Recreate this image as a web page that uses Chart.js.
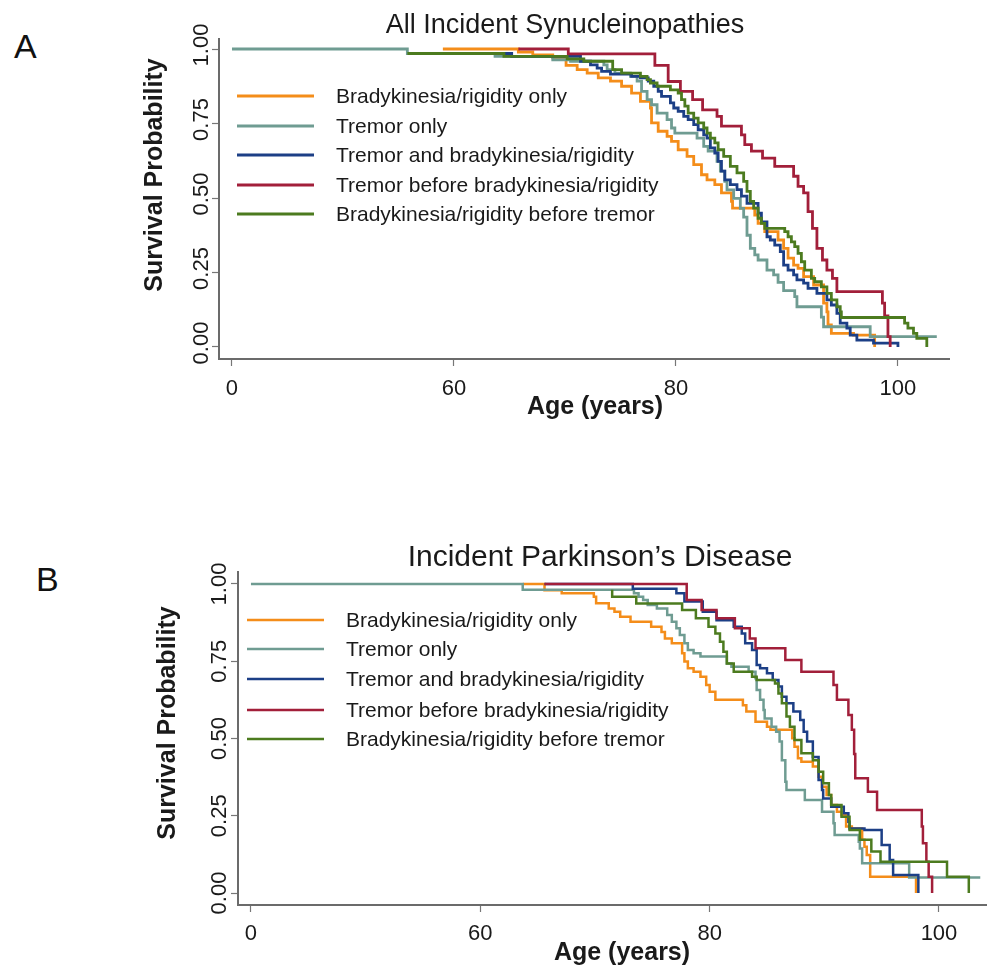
<!DOCTYPE html>
<html>
<head>
<meta charset="utf-8">
<script src="https://cdn.jsdelivr.net/npm/chart.js@4.4.1/dist/chart.umd.min.js"></script>
<style>
    body { margin: 0; background: #fff; width: 987px; height: 969px; position: relative; overflow: hidden; font-family: "Liberation Sans", Arial, sans-serif; }
    .painel { position: absolute; left: 0; width: 987px; }
    #painelA { top: 0; height: 440px; }
    #painelB { top: 470px; height: 499px; }
    .letra { position: absolute; font-size: 34px; line-height: 1; color: #111; }
</style>
</head>
<body>
<div class="letra" style="left:14px; top:29px;">A</div>
<div class="letra" style="left:36px; top:562px;">B</div>
<div class="painel" id="painelA"><canvas id="graficoA"></canvas></div>
<div class="painel" id="painelB"><canvas id="graficoB"></canvas></div>

<script>
// eixos
var ticksIdade = [40, 60, 80, 100];
var ticksSobrevivencia = [0, 0.25, 0.5, 0.75, 1];
var grupos = ['Bradykinesia/rigidity only', 'Tremor only', 'Tremor and bradykinesia/rigidity',
              'Tremor before bradykinesia/rigidity', 'Bradykinesia/rigidity before tremor'];
var cores = ['#f48d1a', '#6f9c92', '#1c3f86', '#a21f3a', '#4c7b1f'];

// Painel A - All Incident Synucleinopathies  [idade, sobrevivencia]
var bradiSoA = [[59.0,1],[65.8,0.99],[67.1,0.98],[68.9,0.97],[70.1,0.945],[71.1,0.931],[72.0,0.919],[73.0,0.903],
    [74.1,0.892],[75.1,0.875],[76.0,0.852],[76.8,0.824],[77.7,0.802],[77.8,0.752],[78.4,0.724],[79.2,0.707],
    [79.6,0.690],[80.2,0.662],[81.0,0.640],[81.6,0.612],[82.3,0.578],[82.8,0.561],[83.5,0.545],[84.1,0.517],
    [85.0,0.489],[85.1,0.466],[87.1,0.443],[87.4,0.415],[88.0,0.387],[89.2,0.359],[89.7,0.331],[90.1,0.298],
    [90.6,0.275],[91.0,0.264],[91.5,0.236],[92.4,0.208],[93.3,0.147],[93.6,0.118],[93.7,0.074],[94.0,0.046],
    [96.0,0.040],[97.9,0]];
var tremorSoA = [[40,1],[55.8,0.985],[63.7,0.975],[68.9,0.964],[70.5,0.959],[73.5,0.947],[73.8,0.931],[74.5,0.919],
    [75.9,0.908],[76.5,0.892],[76.9,0.858],[77.4,0.830],[77.8,0.813],[78.3,0.785],[79.2,0.763],[79.6,0.735],
    [79.9,0.718],[81.9,0.701],[82.5,0.673],[82.9,0.657],[83.7,0.623],[84.0,0.590],[84.4,0.556],[84.6,0.527],
    [85.2,0.499],[85.8,0.465],[86.1,0.436],[86.4,0.375],[86.7,0.331],[87.1,0.309],[87.4,0.292],[88.2,0.258],
    [88.8,0.242],[89.2,0.217],[89.7,0.189],[90.7,0.169],[90.9,0.135],[93.1,0.100],[93.3,0.068],[97.5,0.035],
    [103.5,0.035]];
var tremorBradiA = [[64.0,0.985],[65.2,0.975],[71.4,0.959],[72.3,0.947],[72.9,0.936],[73.3,0.925],[74.1,0.916],
    [76.0,0.908],[76.8,0.903],[77.5,0.892],[78.0,0.875],[78.4,0.858],[78.7,0.841],[79.5,0.819],[79.8,0.802],
    [80.2,0.791],[80.7,0.774],[81.1,0.763],[81.6,0.746],[82.0,0.729],[82.5,0.712],[82.8,0.701],[83.1,0.668],
    [83.5,0.651],[83.8,0.623],[84.1,0.590],[84.4,0.561],[84.9,0.545],[85.5,0.528],[85.9,0.506],[86.4,0.482],
    [87.4,0.449],[87.7,0.420],[88.2,0.370],[88.5,0.359],[88.9,0.342],[89.4,0.320],[89.7,0.275],[90.1,0.258],
    [90.6,0.242],[90.9,0.225],[91.5,0.214],[91.9,0.197],[92.7,0.180],[93.6,0.158],[94.0,0.141],[94.5,0.113],
    [94.8,0.080],[95.4,0.063],[95.7,0.040],[96.3,0.023],[97.8,0.013],[100.0,0]];
var tremorAntesA = [[65.8,1],[70.3,0.984],[78.1,0.945],[79.3,0.891],[80.4,0.858],[81.5,0.830],[82.4,0.796],
    [83.7,0.774],[84.1,0.741],[85.9,0.712],[86.2,0.679],[86.8,0.657],[87.8,0.634],[88.9,0.606],[90.6,0.573],
    [91.0,0.539],[91.5,0.517],[91.9,0.454],[92.3,0.398],[92.7,0.331],[93.2,0.292],[93.6,0.258],[94.1,0.230],
    [94.5,0.186],[98.6,0.147],[98.8,0.104],[99.1,0.035],[99.3,0]];
var bradiAntesA = [[55.8,0.985],[64.5,0.975],[70.2,0.967],[71.7,0.959],[74.3,0.931],[75.1,0.919],[76.8,0.908],
    [77.4,0.897],[77.7,0.886],[78.3,0.875],[79.5,0.863],[80.2,0.852],[80.5,0.830],[80.8,0.808],[81.1,0.785],
    [81.6,0.768],[82.0,0.752],[82.5,0.735],[82.8,0.718],[83.1,0.701],[83.5,0.685],[83.8,0.662],[84.3,0.640],
    [84.9,0.606],[85.5,0.584],[86.1,0.556],[86.4,0.522],[86.7,0.489],[87.0,0.466],[87.4,0.432],[87.7,0.415],
    [88.0,0.398],[89.8,0.387],[90.1,0.370],[90.4,0.353],[90.7,0.337],[91.0,0.314],[91.3,0.286],[91.6,0.258],
    [92.2,0.230],[92.5,0.219],[93.1,0.202],[93.6,0.180],[94.0,0.158],[94.5,0.135],[94.8,0.118],[94.9,0.099],
    [100.6,0.080],[100.9,0.063],[101.4,0.046],[101.7,0.029],[102.6,0]];

// Painel B - Incident Parkinson's Disease
var bradiSoB = [[63.7,1],[65.6,0.98],[67.1,0.970],[69.9,0.959],[70.1,0.938],[71.2,0.921],[71.7,0.910],[72.2,0.894],
    [73.1,0.878],[74.9,0.862],[75.8,0.845],[76.1,0.824],[76.7,0.808],[77.6,0.776],[77.8,0.749],[78.1,0.727],
    [78.6,0.716],[79.2,0.700],[79.7,0.673],[80.0,0.651],[80.5,0.625],[82.9,0.608],[83.2,0.587],[84.0,0.554],
    [85.0,0.538],[85.3,0.528],[87.2,0.501],[87.4,0.473],[87.7,0.436],[88.0,0.425],[89.0,0.409],[89.5,0.376],
    [89.8,0.344],[90.2,0.317],[90.6,0.285],[91.1,0.263],[91.5,0.252],[91.9,0.215],[92.4,0.209],[93.3,0.172],
    [93.5,0.150],[93.7,0.123],[94.0,0.053],[98.0,0]];
var tremorSoB = [[40,1],[63.7,0.981],[73.4,0.970],[73.8,0.959],[74.2,0.948],[74.6,0.932],[75.4,0.921],[76.3,0.900],
    [76.7,0.878],[77.1,0.857],[77.4,0.835],[77.8,0.808],[78.1,0.786],[78.6,0.776],[79.2,0.765],[81.5,0.743],
    [81.9,0.732],[83.4,0.716],[84.0,0.695],[84.1,0.657],[84.4,0.625],[84.7,0.592],[84.8,0.565],[85.4,0.538],
    [85.8,0.522],[86.1,0.490],[86.3,0.430],[86.6,0.360],[86.7,0.333],[88.3,0.301],[89.8,0.263],[90.8,0.226],
    [90.9,0.188],[93.0,0.166],[93.1,0.144],[93.3,0.096],[97.4,0.050],[103.6,0.050]];
var tremorBradiB = [[65.6,1],[73.3,0.985],[77.1,0.970],[77.8,0.943],[79.4,0.910],[80.6,0.883],[82.1,0.862],
    [82.8,0.840],[83.1,0.808],[83.7,0.786],[84.1,0.738],[84.4,0.727],[85.0,0.711],[85.5,0.689],[86.0,0.668],
    [86.3,0.635],[86.7,0.614],[87.3,0.587],[87.9,0.560],[88.2,0.522],[88.5,0.490],[89.0,0.440],[89.5,0.366],
    [89.8,0.333],[89.9,0.306],[90.6,0.279],[91.7,0.258],[92.1,0.231],[92.2,0.209],[93.5,0.204],[95.0,0.155],
    [95.7,0.107],[96.0,0.058],[98.2,0]];
var tremorAntesB = [[65.6,1],[78.0,0.948],[79.3,0.916],[80.6,0.889],[82.2,0.857],[83.5,0.824],[84.0,0.792],
    [86.6,0.754],[88.0,0.716],[90.8,0.673],[91.1,0.625],[92.1,0.576],[92.4,0.528],[92.6,0.450],[92.7,0.371],
    [93.8,0.328],[94.6,0.269],[98.5,0.215],[98.6,0.161],[98.9,0.101],[99.1,0.053],[99.4,0]];
var bradiAntesB = [[71.5,0.981],[71.5,0.959],[73.6,0.937],[77.6,0.916],[78.8,0.889],[79.9,0.862],[80.5,0.840],
    [80.9,0.813],[81.2,0.781],[81.5,0.743],[82.1,0.716],[83.7,0.700],[84.1,0.689],[85.7,0.678],[86.0,0.646],
    [86.3,0.614],[86.7,0.571],[87.0,0.538],[87.4,0.495],[88.0,0.452],[89.0,0.430],[89.5,0.392],[89.9,0.355],
    [90.4,0.317],[90.6,0.285],[91.5,0.247],[92.2,0.204],[93.1,0.172],[94.1,0.134],[94.9,0.101],[100.7,0.053],
    [102.6,0]];

// desenha titulo, rotulos do eixo y (girados), titulos dos eixos e legenda
var decoracao = {
    id: 'decoracao',
    afterDraw: function (chart, args, op) {
        var ctx = chart.ctx;
        var escY = chart.scales.y;
        ctx.save();
        ctx.fillStyle = '#1a1a1a';
        ctx.textBaseline = 'alphabetic';
        ctx.textAlign = 'center';

        ctx.font = op.fonteTitulo;
        ctx.fillText(op.titulo, op.tituloX, op.tituloY);

        ctx.font = op.fonteTick;
        ticksSobrevivencia.forEach(function (v) {
            ctx.save();
            ctx.translate(op.tickYx, escY.getPixelForValue(v) + op.tickYdesloc);
            ctx.rotate(-Math.PI / 2);
            ctx.fillText(v.toFixed(2), 0, 0);
            ctx.restore();
        });

        ctx.font = op.fonteEixo;
        ctx.save();
        ctx.translate(op.eixoYx, op.eixoYy);
        ctx.rotate(-Math.PI / 2);
        ctx.fillText('Survival Probability', 0, 0);
        ctx.restore();
        ctx.fillText('Age (years)', op.eixoXx, op.eixoXy);

        ctx.font = op.fonteLegenda;
        ctx.textAlign = 'left';
        chart.data.datasets.forEach(function (ds, i) {
            var ly = op.legendaY[i];
            ctx.strokeStyle = ds.borderColor;
            ctx.lineWidth = op.legendaEspessura;
            ctx.beginPath();
            ctx.moveTo(op.legendaX0, ly);
            ctx.lineTo(op.legendaX1, ly);
            ctx.stroke();
            ctx.fillText(ds.label, op.legendaTextoX, ly + 7);
        });
        ctx.restore();
    }
};

function criarGrafico(idCanvas, series, lim, espessura, padding, tickPad, deco) {
    var grade = { display: true, drawOnChartArea: false, drawTicks: true, tickLength: 7, tickColor: '#777', tickWidth: 1.2 };
    var borda = { display: true, color: '#6b6b6b', width: 2 };
    return new Chart(document.getElementById(idCanvas).getContext('2d'), {
        type: 'line',
        data: {
            datasets: series.map(function (s, i) {
                return {
                    label: grupos[i],
                    data: s.map(function (p) { return { x: p[0], y: p[1] }; }),
                    borderColor: cores[i],
                    borderWidth: espessura,
                    stepped: 'before',
                    pointRadius: 0,
                    fill: false,
                    order: 5 - i
                };
            })
        },
        options: {
            responsive: true,
            maintainAspectRatio: false,
            animation: false,
            layout: { padding: padding },
            scales: {
                x: {
                    type: 'linear', min: lim.xMin, max: lim.xMax,
                    afterBuildTicks: function (s) { s.ticks = ticksIdade.map(function (v) { return { value: v }; }); },
                    afterFit: function (s) { s.height = 40; },
                    grid: grade, border: borda,
                    ticks: {
                        autoSkip: false, maxRotation: 0, padding: tickPad, color: '#1a1a1a',
                        font: { family: '"Liberation Sans", Arial, sans-serif', size: 22 },
                        callback: function (v) { return v === 40 ? '0' : v; }
                    }
                },
                y: {
                    type: 'linear', min: lim.yMin, max: lim.yMax,
                    afterBuildTicks: function (s) { s.ticks = ticksSobrevivencia.map(function (v) { return { value: v }; }); },
                    afterFit: function (s) { s.width = 10; },
                    grid: grade, border: borda,
                    ticks: { display: false }
                }
            },
            plugins: {
                legend: { display: false },
                tooltip: { enabled: false },
                decoracao: deco
            }
        },
        plugins: [decoracao]
    });
}

var fonte = '"Liberation Sans", Arial, sans-serif';

criarGrafico('graficoA', [bradiSoA, tremorSoA, tremorBradiA, tremorAntesA, bradiAntesA],
    { xMin: 38.83, xMax: 104.6, yMin: -0.0403, yMax: 1.0336 }, 2.8,
    { left: 209, right: 38, top: 39, bottom: 41 }, 10,
    {
        titulo: 'All Incident Synucleinopathies', fonteTitulo: '27px ' + fonte, tituloX: 565, tituloY: 33,
        fonteTick: '22px ' + fonte, tickYx: 208, tickYdesloc: -4,
        fonteEixo: 'bold 25px ' + fonte, eixoYx: 162, eixoYy: 175, eixoXx: 595, eixoXy: 414,
        fonteLegenda: '21px ' + fonte, legendaY: [96, 126, 155, 185, 214], legendaX0: 237, legendaX1: 314,
        legendaTextoX: 336, legendaEspessura: 2.8
    });

criarGrafico('graficoB', [bradiSoB, tremorSoB, tremorBradiB, tremorAntesB, bradiAntesB],
    { xMin: 38.87, xMax: 104.1, yMin: -0.0388, yMax: 1.0388 }, 2.5,
    { left: 228, right: 1, top: 102, bottom: 24 }, 9,
    {
        titulo: 'Incident Parkinson\u2019s Disease', fonteTitulo: '30px ' + fonte, tituloX: 600, tituloY: 96,
        fonteTick: '22px ' + fonte, tickYx: 226, tickYdesloc: 0,
        fonteEixo: 'bold 25px ' + fonte, eixoYx: 175, eixoYy: 253, eixoXx: 622, eixoXy: 490,
        fonteLegenda: '21px ' + fonte, legendaY: [150, 179, 209, 240, 269], legendaX0: 247, legendaX1: 324,
        legendaTextoX: 346, legendaEspessura: 2.4
    });
</script>
</body>
</html>
